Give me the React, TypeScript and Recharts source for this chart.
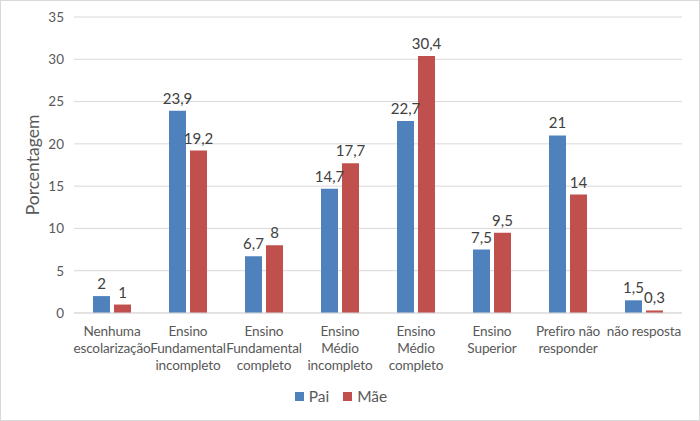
import React from 'react';
import { BarChart, Bar, XAxis, YAxis, CartesianGrid, Legend, LabelList, Label } from 'recharts';

const categories = [
  'Nenhuma\nescolarização',
  'Ensino\nFundamental\nincompleto',
  'Ensino\nFundamental\ncompleto',
  'Ensino\nMédio\nincompleto',
  'Ensino\nMédio\ncompleto',
  'Ensino\nSuperior',
  'Prefiro não\nresponder',
  'não resposta',
];
const pai = [2, 23.9, 6.7, 14.7, 22.7, 7.5, 21, 1.5];
const mae = [1, 19.2, 8, 17.7, 30.4, 9.5, 14, 0.3];
const yTicks = [0, 5, 10, 15, 20, 25, 30, 35];

const data = categories.map((c, i) => ({ cat: c, Pai: pai[i], Mae: mae[i] }));

const FONT = 'Lato, "Open Sans", sans-serif';
const fmt = (v: any) => String(v).replace('.', ',');

const CatTick = (props: any) => {
  const { x, y, payload } = props;
  const lines = String(payload.value).split('\n');
  return (
    <g transform={`translate(${x},${y})`}>
      {lines.map((l, i) => (
        <text key={i} x={0} y={i * 17} dy={14.5} textAnchor="middle" fill="#595959" fontSize={13.6} letterSpacing={-0.15} fontFamily={FONT}>
          {l}
        </text>
      ))}
    </g>
  );
};

const LegendContent = () => (
  <div style={{ height: 20, display: 'flex', justifyContent: 'center', alignItems: 'center', fontFamily: FONT, fontSize: 15.5, color: '#595959' }}>
    <span style={{ display: 'inline-block', width: 9, height: 9, background: '#4F81BD', marginRight: 5 }} />
    <span style={{ marginRight: 14 }}>Pai</span>
    <span style={{ display: 'inline-block', width: 9, height: 9, background: '#C0504D', marginRight: 5 }} />
    <span>Mãe</span>
  </div>
);

export default function App() {
  return (
    <div style={{ position: 'absolute', left: 0, top: 0, width: 700, height: 421, boxSizing: 'border-box', border: '1px solid #d9d9d9', background: '#fff' }}>
      <div style={{ position: 'absolute', left: -1, top: -1 }}>
        <BarChart width={700} height={421} data={data} margin={{ top: 17, right: 18, bottom: 18, left: 0 }} barSize={17} barGap={4}>
          <CartesianGrid vertical={false} stroke="#d9d9d9" />
          <XAxis dataKey="cat" tick={<CatTick />} tickLine={false} axisLine={{ stroke: '#d9d9d9' }} interval={0} height={70} />
          <YAxis
            width={74}
            domain={[0, 35]}
            ticks={yTicks}
            tickLine={false}
            axisLine={false}
            tick={{ fill: '#595959', fontSize: 13.5, fontFamily: FONT }}
            tickMargin={4}
          >
            <Label value="Porcentagem" angle={-90} position="insideLeft" offset={33} style={{ fill: '#595959', fontSize: 17.5, fontFamily: FONT, textAnchor: 'middle' }} />
          </YAxis>
          <Bar dataKey="Pai" fill="#4F81BD" isAnimationActive={false}>
            <LabelList dataKey="Pai" position="top" offset={7} formatter={fmt} style={{ fill: '#404040', fontSize: 15, fontFamily: FONT }} />
          </Bar>
          <Bar dataKey="Mae" name="Mãe" fill="#C0504D" isAnimationActive={false}>
            <LabelList dataKey="Mae" position="top" offset={7} formatter={fmt} style={{ fill: '#404040', fontSize: 15, fontFamily: FONT }} />
          </Bar>
          <Legend verticalAlign="bottom" content={<LegendContent />} wrapperStyle={{ bottom: 15 }} />
        </BarChart>
      </div>
    </div>
  );
}
